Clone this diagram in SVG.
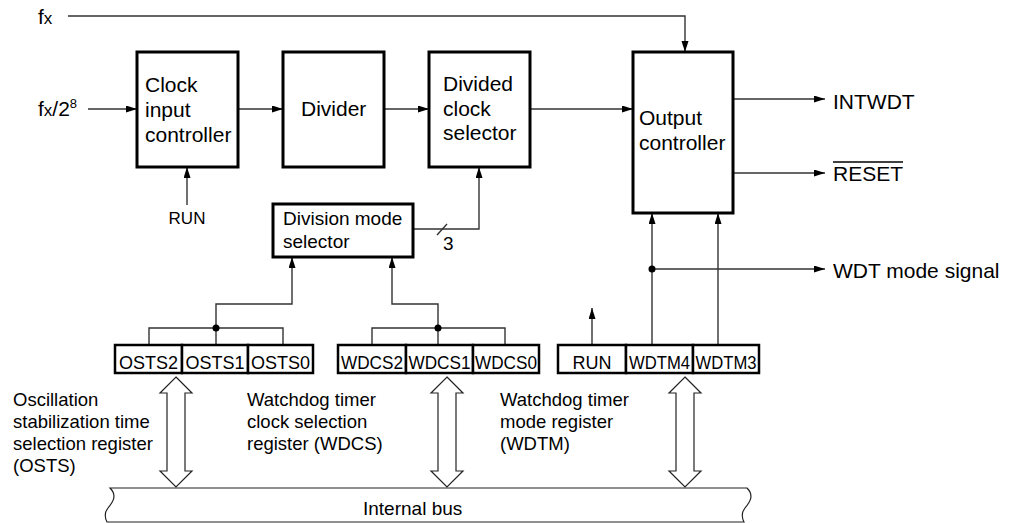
<svg xmlns="http://www.w3.org/2000/svg" width="1010" height="523" viewBox="0 0 1010 523">
<style>
text{font-family:"Liberation Sans",Arial,sans-serif;fill:#000}
.blk{fill:#fff;stroke:#000;stroke-width:3}
.reg{fill:#fff;stroke:#000;stroke-width:2.5}
.ln{fill:none;stroke:#333;stroke-width:1.4}
.ar{marker-end:url(#ah)}
.t21{font-size:21px}
.t19{font-size:19px}
.t18{font-size:18px}
.bus{fill:#fff;stroke:#222;stroke-width:1.2}
</style>
<defs>
<marker id="ah" markerUnits="userSpaceOnUse" markerWidth="12" markerHeight="8" refX="11" refY="3.5" orient="auto">
<path d="M0,0 L11,3.5 L0,7 z" fill="#000"/>
</marker>
</defs>
<rect width="1010" height="523" fill="#fff"/>

<g id="connectors">
<path class="ln ar" d="M68,16 H685 V52"/>
<path class="ln ar" d="M88,109 H137"/>
<path class="ln ar" d="M238,109 H283"/>
<path class="ln ar" d="M384,109 H429"/>
<path class="ln ar" d="M530,109 H633"/>
<path class="ln ar" d="M733,99 H825"/>
<path class="ln ar" d="M733,173 H825"/>
<path class="ln ar" d="M187,205 V167"/>
<path class="ln ar" d="M413,229 H479 V167"/>
<path class="ln" d="M437,235 L447,224"/>
<path class="ln" d="M149,345 V328 H283 V345"/>
<path class="ln ar" d="M216,345 V304 H292 V257"/>
<path class="ln" d="M372,345 V328 H505 V345"/>
<path class="ln ar" d="M438,345 V304 H392 V257"/>
<path class="ln ar" d="M592,345 V308"/>
<path class="ln ar" d="M652,345 V213"/>
<path class="ln ar" d="M718,345 V213"/>
<path class="ln ar" d="M652,269 H825"/>
<circle cx="216" cy="328" r="3.5" fill="#000"/>
<circle cx="438" cy="328" r="3.5" fill="#000"/>
<circle cx="652" cy="269" r="3.5" fill="#000"/>
</g>

<g id="inputs">
<text x="38" y="24" class="t21">f<tspan font-size="17">x</tspan></text>
<text x="38" y="116" class="t21">f<tspan font-size="17">x</tspan>/2<tspan font-size="13" dy="-8">8</tspan></text>
<text x="187" y="224" font-size="17" text-anchor="middle">RUN</text>
</g>

<g id="clock-input-controller">
<rect class="blk" x="137" y="52" width="101" height="115"/>
<text class="t21" x="145" y="92">Clock</text>
<text class="t21" x="145" y="117">input</text>
<text class="t21" x="145" y="142">controller</text>
</g>

<g id="divider">
<rect class="blk" x="283" y="52" width="101" height="115"/>
<text class="t21" x="301" y="116">Divider</text>
</g>

<g id="divided-clock-selector">
<rect class="blk" x="429" y="52" width="101" height="115"/>
<text class="t21" x="443" y="91">Divided</text>
<text class="t21" x="443" y="116">clock</text>
<text class="t21" x="443" y="140">selector</text>
</g>

<g id="output-controller">
<rect class="blk" x="633" y="52" width="100" height="161"/>
<text class="t21" x="639" y="125">Output</text>
<text class="t21" x="639" y="150">controller</text>
</g>

<g id="outputs">
<text class="t21" x="833" y="109">INTWDT</text>
<text class="t21" x="833" y="181">RESET</text>
<line x1="833" y1="162" x2="903" y2="162" stroke="#000" stroke-width="1.3"/>
<text class="t21" x="833" y="278">WDT mode signal</text>
</g>

<g id="division-mode-selector">
<rect class="blk" x="273" y="204" width="140" height="53"/>
<text class="t19" x="283" y="225">Division mode</text>
<text class="t19" x="283" y="248">selector</text>
<text class="t19" x="443" y="250">3</text>
</g>

<g id="osts-register">
<rect class="reg" x="115" y="345" width="67" height="28"/>
<rect class="reg" x="182" y="345" width="66" height="28"/>
<rect class="reg" x="248" y="345" width="65" height="28"/>
<text class="t18" x="148.5" y="369" text-anchor="middle">OSTS2</text>
<text class="t18" x="215" y="369" text-anchor="middle">OSTS1</text>
<text class="t18" x="280.5" y="369" text-anchor="middle">OSTS0</text>
</g>

<g id="wdcs-register">
<rect class="reg" x="338" y="345" width="68" height="28"/>
<rect class="reg" x="406" y="345" width="67" height="28"/>
<rect class="reg" x="473" y="345" width="66" height="28"/>
<text class="t18" x="372" y="369" text-anchor="middle" textLength="62" lengthAdjust="spacingAndGlyphs">WDCS2</text>
<text class="t18" x="439.5" y="369" text-anchor="middle" textLength="62" lengthAdjust="spacingAndGlyphs">WDCS1</text>
<text class="t18" x="506" y="369" text-anchor="middle" textLength="62" lengthAdjust="spacingAndGlyphs">WDCS0</text>
</g>

<g id="wdtm-register">
<rect class="reg" x="558" y="345" width="68" height="28"/>
<rect class="reg" x="626" y="345" width="67" height="28"/>
<rect class="reg" x="693" y="345" width="66" height="28"/>
<text class="t18" x="592" y="369" text-anchor="middle">RUN</text>
<text class="t18" x="659.5" y="369" text-anchor="middle" textLength="61" lengthAdjust="spacingAndGlyphs">WDTM4</text>
<text class="t18" x="726" y="369" text-anchor="middle" textLength="61" lengthAdjust="spacingAndGlyphs">WDTM3</text>
</g>

<g id="register-labels" font-size="18.5">
<text x="13" y="406">Oscillation</text>
<text x="13" y="428">stabilization time</text>
<text x="13" y="450">selection register</text>
<text x="13" y="472">(OSTS)</text>
<text x="247" y="406">Watchdog timer</text>
<text x="247" y="428">clock selection</text>
<text x="247" y="450">register (WDCS)</text>
<text x="500" y="406">Watchdog timer</text>
<text x="500" y="428">mode register</text>
<text x="500" y="450">(WDTM)</text>
</g>

<g id="internal-bus">
<path class="bus" d="M110,488 H747 C755,496 749,503 745,508 C741,513 742,518 744,522 H107 C105,518 104,513 108,508 C112,503 118,496 110,488 Z"/>
<text class="t19" x="363" y="515">Internal bus</text>
</g>

<g id="bus-arrows" fill="#fff" stroke="#222" stroke-width="1.2">
<polygon points="176,377 192,393 185,393 185,471 192,471 176,487 160,471 167,471 167,393 160,393"/>
<polygon points="447,377 463,393 456,393 456,471 463,471 447,487 431,471 438,471 438,393 431,393"/>
<polygon points="685,377 701,393 694,393 694,471 701,471 685,487 669,471 676,471 676,393 669,393"/>
</g>
</svg>
